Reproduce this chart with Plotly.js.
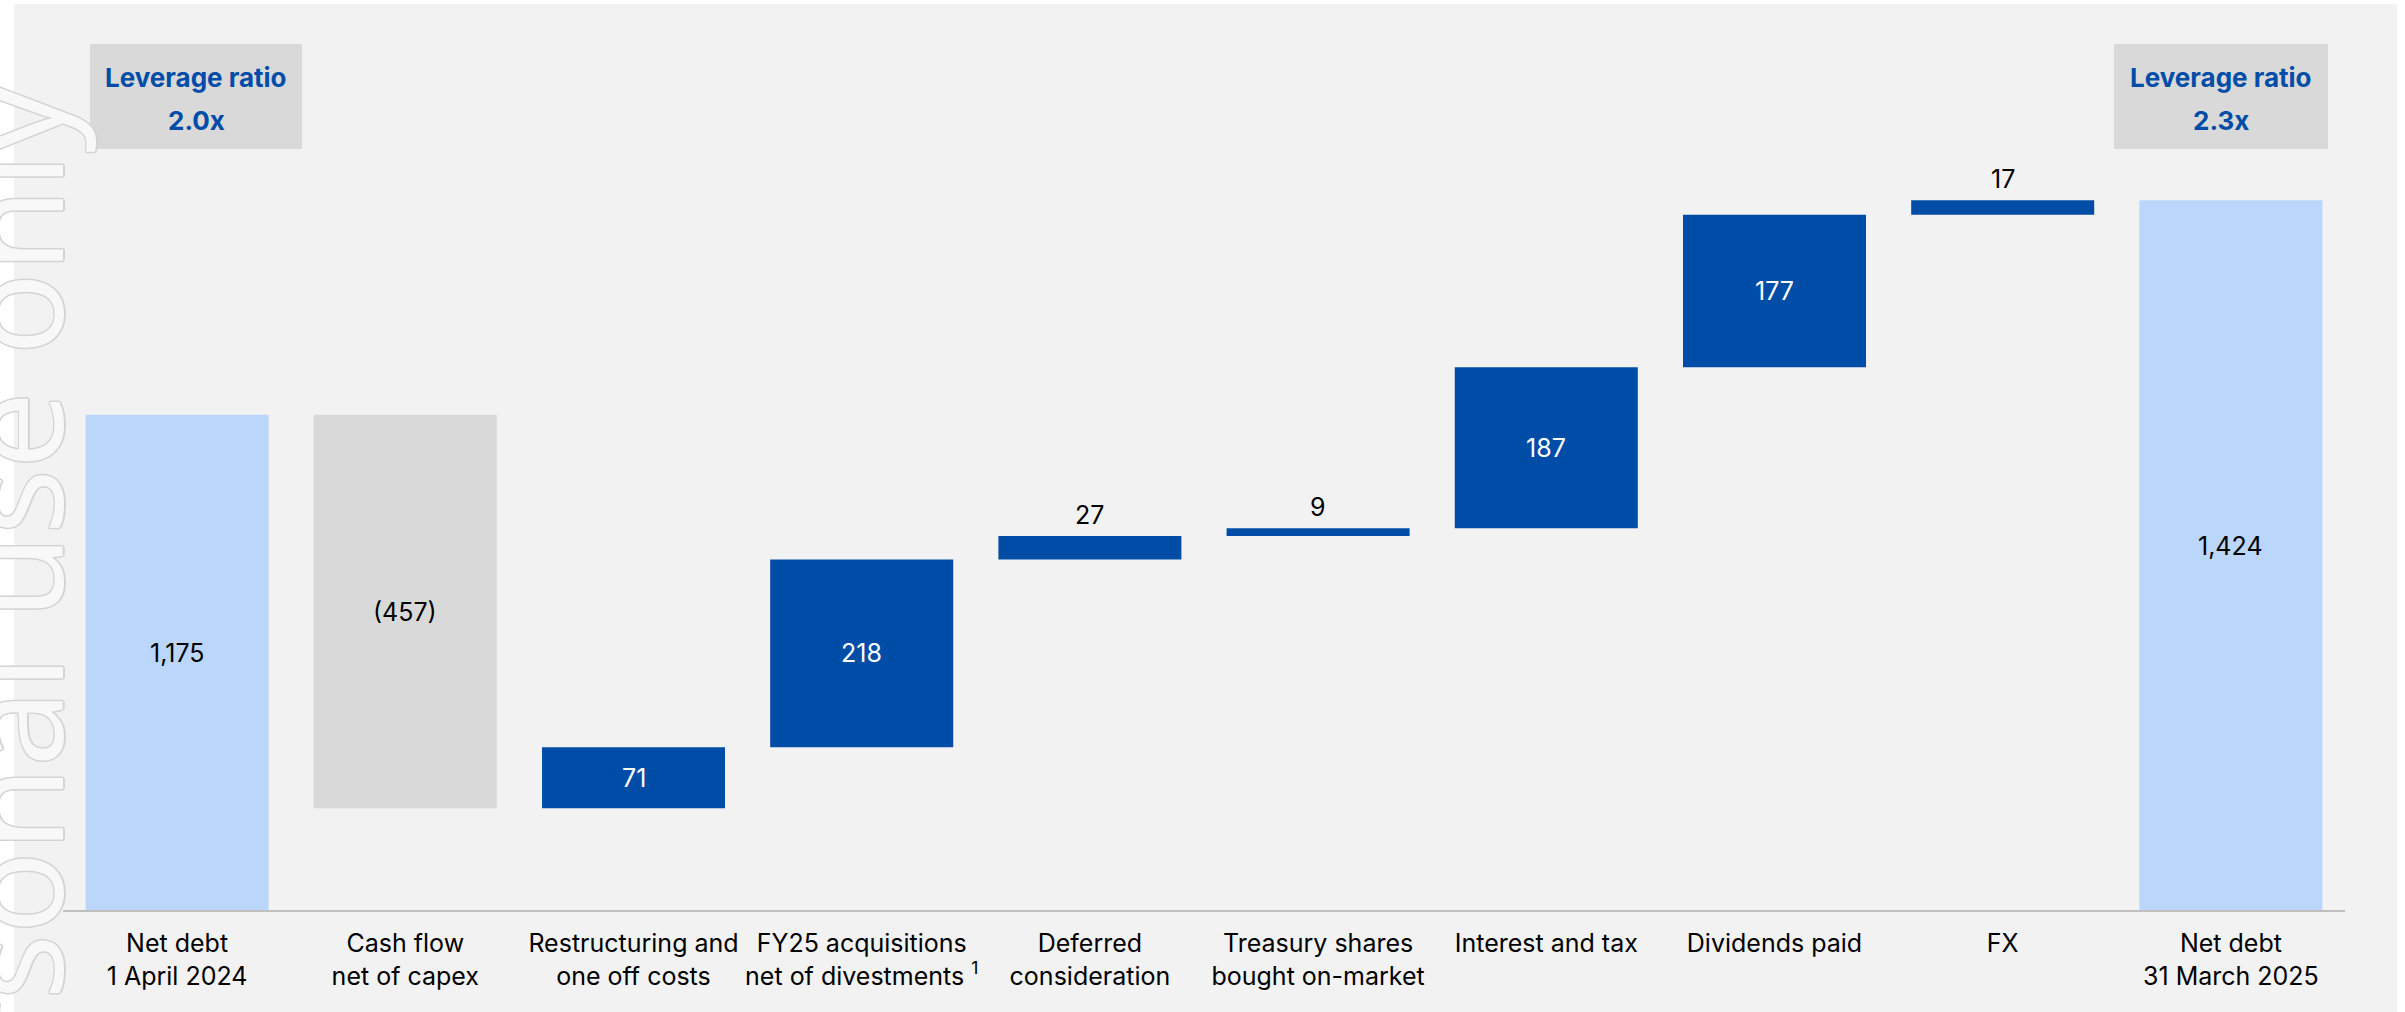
<!DOCTYPE html>
<html>
<head>
<meta charset="utf-8">
<script src="https://cdn.plot.ly/plotly-3.0.1.min.js"></script>
<style>
  html, body { margin: 0; padding: 0; background: #ffffff; }
  #chart { width: 2405px; height: 1012px; }
</style>
</head>
<body>
<div id="chart"></div>
<script>
// ---------- data ----------
const categories = [
  'Net debt<br>1 April 2024',
  'Cash flow<br>net of capex',
  'Restructuring and<br>one off costs',
  'FY25 acquisitions<br>net of divestments <sup>1</sup>',
  'Deferred<br>consideration',
  'Treasury shares<br>bought on-market',
  'Interest and tax',
  'Dividends paid',
  'FX',
  'Net debt<br>31 March 2025'
];
const values = [1175, -457, 71, 218, 27, 9, 187, 177, 17, 1424];
const measures = ['total', 'relative', 'relative', 'relative', 'relative',
                  'relative', 'relative', 'relative', 'relative', 'total'];
const valueLabels = ['1,175', '(457)', '71', '218', '27', '9', '187', '177', '17', '1,424'];
const leverageTitle = 'Leverage ratio';
const leverageValues = ['2.0x', '2.3x'];
const watermarkText = 'Personal use only';

// ---------- styling ----------
const W = 2405, H = 1012;
const M = { l: 63, r: 60, t: 58, b: 102 };
const Y_RANGE = [600, 1589];
const COL_TOTAL = '#BAD7FB';
const COL_UP = '#004DA8';
const COL_DOWN = '#D9D9D9';
const FONT = 'Inter, Roboto, "Noto Sans", sans-serif';

// ---------- waterfall geometry from data ----------
const bases = [], heights = [], colors = [];
let running = 0;
values.forEach((v, i) => {
  if (measures[i] === 'total') {
    bases.push(0); heights.push(v); running = v;
    colors.push(COL_TOTAL);
  } else {
    bases.push(running); heights.push(v); running += v;
    colors.push(v >= 0 ? COL_UP : COL_DOWN);
  }
});

const xIdx = categories.map((_, i) => i);

const trace = {
  type: 'bar',
  x: xIdx,
  y: heights,
  base: bases,
  marker: { color: colors, line: { width: 0 } },
  hoverinfo: 'skip',
  showlegend: false
};

// pixel helpers
const plotW = W - M.l - M.r, plotH = H - M.t - M.b;
const px2paperX = px => (px - M.l) / plotW;
const px2paperY = py => (H - M.b - py) / plotH;

const annotations = [];
const shapes = [];

// value labels
values.forEach((v, i) => {
  const lo = Math.max(Math.min(bases[i], bases[i] + heights[i]), Y_RANGE[0]);
  const hi = Math.max(bases[i], bases[i] + heights[i]);
  const inside = Math.abs(v) >= 50;
  let color = '#000000';
  if (inside && measures[i] !== 'total' && v > 0) color = '#ffffff';
  let ys = 0;
  if (!inside) ys = 4;
  else if (measures[i] === 'total') ys = 9;
  annotations.push({
    x: i, xref: 'x',
    y: inside ? (lo + hi) / 2 : hi, yref: 'y',
    text: valueLabels[i],
    showarrow: false,
    xanchor: 'center',
    yanchor: inside ? 'middle' : 'bottom',
    yshift: ys,
    font: { family: FONT, size: 25, color: color }
  });
});

// leverage boxes
const boxDefs = [
  { x0: 90, x1: 302, y0: 44, y1: 149 },
  { x0: 2114, x1: 2328, y0: 44, y1: 149 }
];
boxDefs.forEach((b, k) => {
  shapes.push({
    type: 'rect', xref: 'paper', yref: 'paper',
    x0: px2paperX(b.x0), x1: px2paperX(b.x1),
    y0: px2paperY(b.y1), y1: px2paperY(b.y0),
    fillcolor: '#D9D9D9', line: { width: 0 }, layer: 'below'
  });
  const cx = px2paperX((b.x0 + b.x1) / 2);
  annotations.push({
    x: cx, xref: 'paper', y: px2paperY(77), yref: 'paper',
    text: '<b>' + leverageTitle + '</b>', showarrow: false,
    xanchor: 'center', yanchor: 'middle',
    font: { family: FONT, size: 26, color: COL_UP }
  });
  annotations.push({
    x: cx, xref: 'paper', y: px2paperY(120), yref: 'paper',
    text: '<b>' + leverageValues[k] + '</b>', showarrow: false,
    xanchor: 'center', yanchor: 'middle',
    font: { family: FONT, size: 26, color: COL_UP }
  });
});

// grey panel background
shapes.unshift({
  type: 'rect', xref: 'paper', yref: 'paper',
  x0: px2paperX(14), x1: px2paperX(2397),
  y0: px2paperY(H + 5), y1: px2paperY(4),
  fillcolor: '#F2F2F2', line: { width: 0 }, layer: 'below'
});

// watermark
const wmStroke = '#D4D4D4';
const sh = [];
[[1.5,0],[-1.5,0],[0,1.5],[0,-1.5],[1,1],[-1,-1],[1,-1],[-1,1]].forEach(d => {
  sh.push(d[0] + 'px ' + d[1] + 'px 0 ' + wmStroke);
});
annotations.push({
  x: px2paperX(9), xref: 'paper',
  y: px2paperY(650), yref: 'paper',
  text: watermarkText, showarrow: false,
  textangle: -90,
  xanchor: 'center', yanchor: 'middle',
  font: { family: '"Open Sans", sans-serif', size: 138, color: '#F8F8F8', shadow: sh.join(', ') }
});

const layout = {
  width: W, height: H,
  margin: M,
  paper_bgcolor: '#ffffff',
  plot_bgcolor: 'rgba(0,0,0,0)',
  bargap: 0.198,
  showlegend: false,
  xaxis: {
    type: 'linear',
    range: [-0.5, categories.length - 0.5],
    tickvals: xIdx,
    ticktext: categories,
    showline: true, linecolor: '#BFBFBF', linewidth: 2,
    showgrid: false, zeroline: false,
    ticks: '',
    ticklabelstandoff: 10,
    tickfont: { family: FONT, size: 25, color: '#000000' },
    fixedrange: true
  },
  yaxis: {
    range: Y_RANGE,
    visible: false,
    showgrid: false, zeroline: false,
    fixedrange: true
  },
  shapes: shapes,
  annotations: annotations
};

Plotly.newPlot('chart', [trace], layout, { displayModeBar: false, staticPlot: true });
</script>
</body>
</html>
